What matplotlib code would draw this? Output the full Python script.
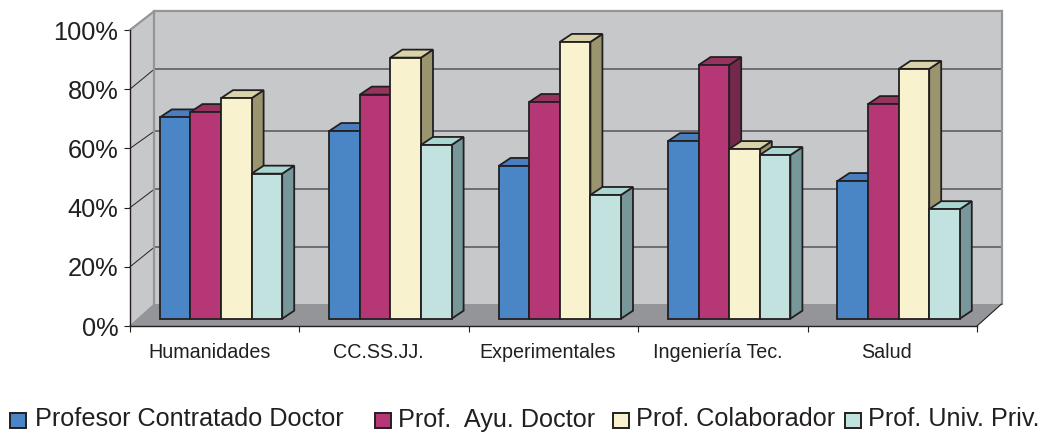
import numpy as np
from matplotlib import pyplot as plt
from matplotlib.patches import Polygon, Rectangle
from matplotlib.transforms import ScaledTranslation

plt.rcParams['font.family'] = ['Liberation Sans', 'DejaVu Sans']

categories = ["Humanidades", "CC.SS.JJ.", "Experimentales", "Ingeniería Tec.", "Salud"]
series_names = ["Profesor Contratado Doctor", "Prof.  Ayu. Doctor", "Prof. Colaborador", "Prof. Univ. Priv."]
contratado = [68, 63.4, 51.6, 60, 46.5]
ayudante = [69.8, 75.7, 73.2, 85.7, 72.5]
colaborador = [74.5, 88.2, 93.5, 57.3, 84.4]
privada = [49, 58.7, 41.8, 55.3, 37]
y_ticks = [0, 20, 40, 60, 80, 100]
# where the gridlines sit on the back wall, pixel rows in the original
back_grid_rows = [247, 189, 131, 69]

W, H = 1043, 433
front_colors = ["#4A86C5", "#B63775", "#F8F2CF", "#C1E2DF"]
top_colors = ["#4A7DBD", "#96335F", "#D9D3A9", "#AAD6D2"]
side_colors = ["#36608F", "#74294C", "#9A946F", "#78979A"]
edge = "#231F20"
wall = "#C7C8CA"
floor = "#939598"
grid = "#6D6E71"

fig = plt.figure(figsize=(W / 100, H / 100), dpi=100)
# axes is the front plane of the box, everything else is offset from it
ax = fig.add_axes([130 / W, 1 - 326 / H, 847 / W, 296 / H])
ax.set_xlim(-0.5, 4.5)
ax.set_ylim(0, 100)
ax.patch.set_visible(False)

# depth offsets in data units
wall_dx = 24.5 / 169.4
wall_dy = 22 / 2.96
bar_dx = 12 / 169.4
bar_dy = 8 / 2.96
base_dx = 6.3 / 169.4
base_dy = 7.3 / 2.96
bar_w = 30.6 / 169.4
x0, x1 = -0.5, 4.5
wall_top = 315 / 2.96


def add_poly(pts, color, z, ec="none", lw=0):
    ax.add_patch(Polygon(pts, closed=True, fc=color, ec=ec, lw=lw, zorder=z,
                         clip_on=False, joinstyle="miter"))


# box
add_poly([(x0, 0), (x0 + wall_dx, wall_dy), (x1 + wall_dx, wall_dy), (x1, 0)], floor, 1)
add_poly([(x0 + wall_dx, wall_dy), (x1 + wall_dx, wall_dy), (x1 + wall_dx, wall_top), (x0 + wall_dx, wall_top)], wall, 1)
add_poly([(x0, 0), (x0 + wall_dx, wall_dy), (x0 + wall_dx, wall_top), (x0, 100)], wall, 1)
for t, row in zip(y_ticks[1:-1], back_grid_rows):
    yb = (326 - row) / 2.96
    ax.plot([x0 + wall_dx, x1 + wall_dx], [yb, yb], color=grid, lw=1.4, zorder=2, clip_on=False)
    ax.plot([x0, x0 + wall_dx], [t, yb], color=edge, lw=0.7, zorder=2, clip_on=False)
ax.plot([x0 + wall_dx, x0 + wall_dx], [wall_dy, wall_top], color=floor, lw=1.6, zorder=2, clip_on=False)
ax.plot([x1 + wall_dx, x1 + wall_dx], [wall_dy, wall_top], color=floor, lw=1.6, zorder=2, clip_on=False)
ax.plot([x0, x0 + wall_dx, x1 + wall_dx], [100, wall_top, wall_top], color=floor, lw=1.6, zorder=2, clip_on=False)
ax.plot([x0, x0 + wall_dx], [0, wall_dy], color=floor, lw=1, zorder=2, clip_on=False)
ax.plot([x1, x1 + wall_dx], [0, wall_dy], color=edge, lw=0.8, zorder=2, clip_on=False)

# bars, left to right so each front hides the side of the previous one
all_series = [contratado, ayudante, colaborador, privada]
z = 3
for i in range(len(categories)):
    for s, vals in enumerate(all_series):
        left = i + base_dx + (s - 2) * bar_w
        right = left + bar_w
        v = vals[i] + base_dy
        add_poly([(right, base_dy), (right + bar_dx, base_dy + bar_dy), (right + bar_dx, v + bar_dy), (right, v)],
                 side_colors[s], z, edge, 1.3)
        add_poly([(left, v), (left + bar_dx, v + bar_dy), (right + bar_dx, v + bar_dy), (right, v)],
                 top_colors[s], z, edge, 1.3)
        ax.bar(left, vals[i], width=bar_w, bottom=base_dy, align="edge", color=front_colors[s],
               edgecolor=edge, linewidth=1.3, zorder=z + 1, clip_on=False)
        z += 2

# axes
for name in ["top", "right"]:
    ax.spines[name].set_visible(False)
for name in ["left", "bottom"]:
    ax.spines[name].set_color(edge)
    ax.spines[name].set_linewidth(1)
    ax.spines[name].set_zorder(2)
ax.set_yticks(y_ticks)
ax.set_yticklabels([str(t) + "%" for t in y_ticks], fontsize=18.3, color=edge)
ax.tick_params(axis="y", length=4.5, width=0.8, color=edge, pad=4)
ax.set_xticks(np.arange(-0.5, 5, 1))
ax.set_xticklabels([])
ax.tick_params(axis="x", which="major", length=4.5, width=0.8, color=edge)
ax.set_xticks(np.arange(len(categories)), minor=True)
ax.set_xticklabels(categories, minor=True, fontsize=14.2, color=edge)
ax.tick_params(axis="x", which="minor", length=0, pad=12.5)
shift = ScaledTranslation(-5.5 / 100, 0, fig.dpi_scale_trans)
for lab in ax.get_xticklabels(minor=True):
    lab.set_transform(lab.get_transform() + shift)

# legend, spacing is uneven in the original so placed by hand
swatch_x = [10, 375, 613, 845]
text_x = [35, 398, 636, 868]
for s, name in enumerate(series_names):
    fig.add_artist(Rectangle((swatch_x[s] / W, 1 - 427.5 / H), 16 / W, 15 / H, transform=fig.transFigure,
                             fc=front_colors[s], ec=edge, lw=1.4))
    fig.text(text_x[s] / W, 1 - 426.5 / H, name, fontsize=18.15, color=edge, va="baseline", ha="left")

fig.savefig("out.png", dpi=100)
